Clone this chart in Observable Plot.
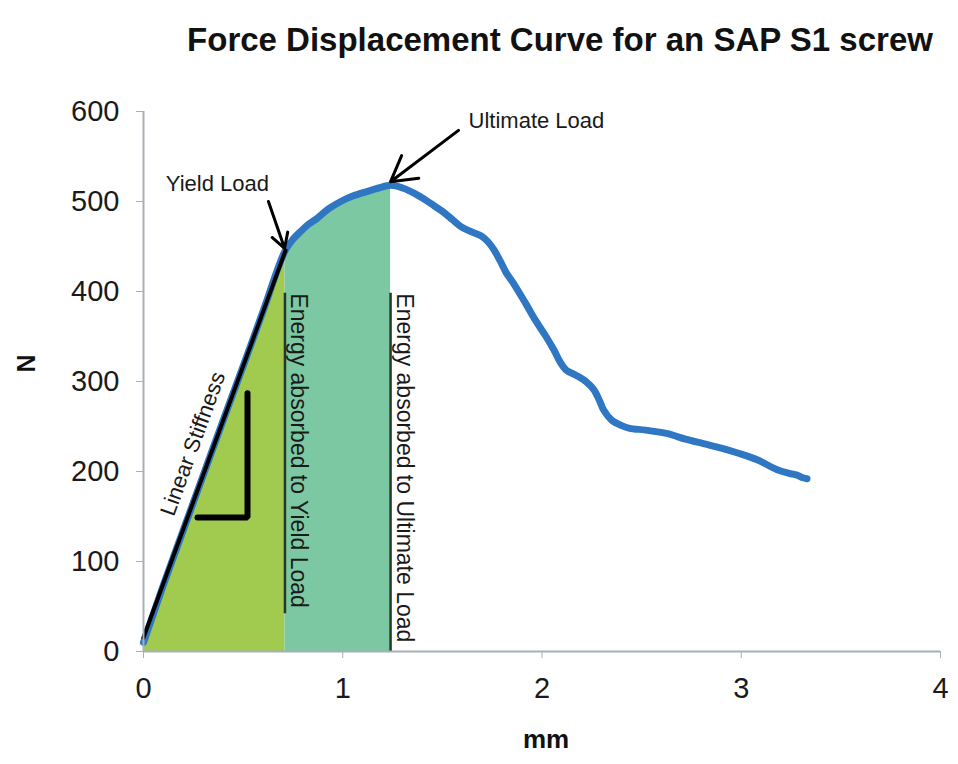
<!DOCTYPE html>
<html><head><meta charset="utf-8">
<script src="https://cdn.jsdelivr.net/npm/d3@7"></script>
<script src="https://cdn.jsdelivr.net/npm/@observablehq/plot@0.6"></script>
<style>body{margin:0;background:#fff} #chart svg{display:block}</style>
</head><body><div id="chart"></div>
<script>
const title = "Force Displacement Curve for an SAP S1 screw";
const xLabel = "mm";
const yLabel = "N";
const xTicks = [0, 1, 2, 3, 4];
const yTicks = [0, 100, 200, 300, 400, 500, 600];

// Measured curve (displacement in mm, force in N)
const dispMm = [0, 0.1, 0.2, 0.3, 0.4, 0.5, 0.6, 0.71, 0.75, 0.79, 0.83, 0.87, 0.93, 0.99, 1.05, 1.12, 1.18, 1.24,
  1.30, 1.36, 1.42, 1.46, 1.50, 1.55, 1.60, 1.65, 1.70, 1.73, 1.76, 1.79, 1.82, 1.86, 1.92, 1.97, 2.02, 2.06, 2.09,
  2.12, 2.17, 2.22, 2.26, 2.29, 2.31, 2.35, 2.40, 2.44, 2.52, 2.63, 2.72, 2.81, 2.90, 2.99, 3.08, 3.18, 3.24, 3.28, 3.31, 3.33];
const forceN = [10, 74, 135, 196, 257, 317, 378, 445, 458, 467, 475, 481, 492, 500, 506, 511, 515, 518,
  515, 509, 501, 495, 489, 480, 471, 466, 461, 455, 446, 434, 421, 408, 386, 367, 350, 335, 322,
  313, 307, 300, 291, 278, 268, 257, 251, 248, 246, 242, 236, 231, 226, 220, 213, 202, 198, 196, 193, 192];

const yieldX = 0.71;
const ultimateX = 1.24;

// Linear stiffness line and slope marker
const stiffX = [0, 0.713];
const stiffY = [15.6, 445.6];
const slopeX = [0.271, 0.522, 0.522];
const slopeY = [149, 149, 287];

// Annotation labels
const annLabels = ["Yield Load", "Ultimate Load"];
const annTextX = [0.371, 1.972];
const annTextY = [512, 582];
const arrowFromX = [0.627, 1.581];
const arrowFromY = [500, 579];
const arrowToX = [0.708, 1.240];
const arrowToY = [448, 522];

const energyLabels = ["Energy absorbed to Yield Load", "Energy absorbed to Ultimate Load"];
const energyX = [yieldX, ultimateX];
const energyTop = [398, 398];
const energyBottom = [42, 0];

const stiffLabel = "Linear Stiffness";
const stiffLabelX = 0.282;
const stiffLabelY = 228;

const curve = dispMm.map((x, i) => ({x, y: forceN[i]}));
const stiff = stiffX.map((x, i) => ({x, y: stiffY[i]}));
const slope = slopeX.map((x, i) => ({x, y: slopeY[i]}));
const ann = annLabels.map((t, i) => ({t, x: annTextX[i], y: annTextY[i], x1: arrowFromX[i], y1: arrowFromY[i], x2: arrowToX[i], y2: arrowToY[i]}));
const energy = energyLabels.map((t, i) => ({t, x: energyX[i], y1: energyBottom[i], y2: energyTop[i]}));

const font = "Liberation Sans, Arial, Helvetica, sans-serif";
const axisColor = "#a5b0b8";

const chart = Plot.plot({
  width: 958,
  height: 764,
  marginTop: 111,
  marginBottom: 113,
  marginLeft: 143,
  marginRight: 18,
  style: {fontFamily: font, background: "#fff", color: "#1a1a1a"},
  x: {domain: [0, 4]},
  y: {domain: [0, 600]},
  marks: [
    Plot.areaY(curve.filter(d => d.x <= yieldX), {x: "x", y: "y", fill: "#a0cb4f", curve: "catmull-rom"}),
    Plot.areaY(curve.filter(d => d.x >= yieldX && d.x <= ultimateX), {x: "x", y: "y", fill: "#7cc8a2", curve: "catmull-rom"}),
    Plot.ruleX(energy, {x: "x", y1: "y1", y2: "y2", stroke: "#26382b", strokeWidth: 2.5}),
    Plot.text(energy, {x: "x", y: "y2", text: "t", rotate: 90, textAnchor: "start", lineAnchor: "bottom", dx: 6, fontSize: 23, fill: "#1a1a1a"}),
    Plot.line(curve, {x: "x", y: "y", stroke: "#2f77c2", strokeWidth: 7, curve: "catmull-rom", strokeLinecap: "round", strokeLinejoin: "round"}),
    Plot.line(stiff, {x: "x", y: "y", stroke: "#000", strokeWidth: 4}),
    Plot.line(slope, {x: "x", y: "y", stroke: "#000", strokeWidth: 6, strokeLinejoin: "miter"}),
    Plot.text([stiffLabel], {x: () => stiffLabelX, y: () => stiffLabelY, text: d => d, rotate: -70, textAnchor: "middle", lineAnchor: "bottom", fontSize: 22, fill: "#1a1a1a"}),
    Plot.arrow(ann, {x1: "x1", y1: "y1", x2: "x2", y2: "y2", stroke: "#000", strokeWidth: 3, headLength: 22, headAngle: 60}),
    Plot.text(ann, {x: "x", y: "y", text: "t", textAnchor: "middle", lineAnchor: "bottom", fontSize: 22, fill: "#1a1a1a"}),
    Plot.ruleX([0], {y1: 0, y2: 600, stroke: axisColor, strokeWidth: 2}),
    Plot.ruleY([0], {x1: 0, x2: 4, stroke: axisColor, strokeWidth: 2}),
    Plot.axisY({ticks: yTicks, tickFormat: d3.format("d"), tickSize: 7, tickPadding: 17, fontSize: 29, stroke: axisColor, fill: "#1a1a1a", label: null}),
    Plot.axisX({ticks: xTicks, tickFormat: d3.format("d"), tickSize: 7, tickPadding: 19, fontSize: 29, stroke: axisColor, fill: "#1a1a1a", label: null}),
    Plot.text([yLabel], {frameAnchor: "left", text: d => d, dx: -117, dy: -9, rotate: -90, fontSize: 25, fontWeight: "bold", fill: "#111"}),
    Plot.text([xLabel], {frameAnchor: "bottom", text: d => d, dx: 4, dy: 96, fontSize: 26, fontWeight: "bold", fill: "#111"}),
    Plot.text([title], {frameAnchor: "top", text: d => d, dx: 18, dy: -61, lineAnchor: "bottom", fontSize: 33, fontWeight: "bold", fill: "#111"})
  ]
});
document.getElementById("chart").appendChild(chart);
</script>
</body></html>
